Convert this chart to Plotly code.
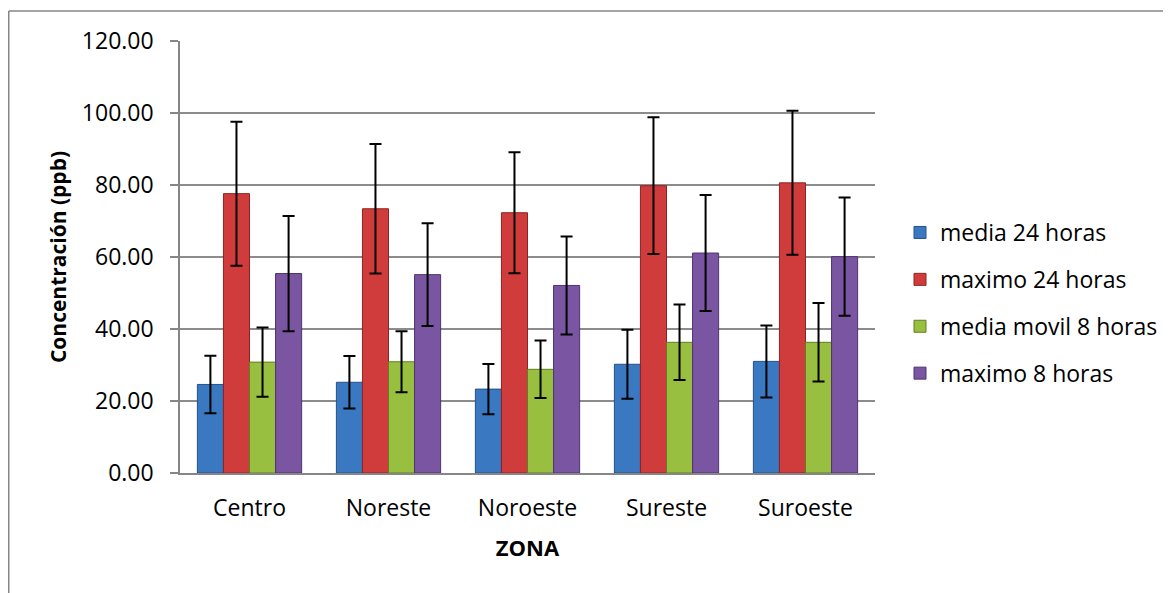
import plotly.graph_objects as go

zonas = ["Centro", "Noreste", "Noroeste", "Sureste", "Suroeste"]
series_names = ["media 24 horas", "maximo 24 horas", "media movil 8 horas", "maximo 8 horas"]
media_24 = [24.6, 25.2, 23.3, 30.2, 31.0]
media_24_err = [8.0, 7.3, 7.0, 9.6, 10.0]
maximo_24 = [77.6, 73.4, 72.3, 79.8, 80.6]
maximo_24_err = [20.0, 18.0, 16.8, 19.0, 20.0]
media_movil_8 = [30.8, 30.9, 28.8, 36.3, 36.3]
media_movil_8_err = [9.6, 8.5, 8.0, 10.5, 10.9]
maximo_8 = [55.4, 55.1, 52.1, 61.1, 60.1]
maximo_8_err = [16.0, 14.3, 13.6, 16.1, 16.4]

values = [media_24, maximo_24, media_movil_8, maximo_8]
errors = [media_24_err, maximo_24_err, media_movil_8_err, maximo_8_err]
colors = ["#3A78C2", "#D03C3B", "#98BF40", "#7A55A2"]
edges = ["#24508A", "#8E2422", "#5F7F22", "#4E3470"]

FONT = "Open Sans"
fig = go.Figure()
for i, (name, v, e) in enumerate(zip(series_names, values, errors)):
    fig.add_trace(go.Bar(
        x=zonas, y=v, name=name, legendgroup=f"g{i}",
        marker=dict(color=colors[i], line=dict(color=edges[i], width=1)),
        error_y=dict(type="data", array=e, visible=True, color="black",
                     thickness=2, width=6),
    ))

# page has an 8px body margin; figure drawn from (8, 8)
OFF = 8
W, H = 1171 - OFF, 593 - OFF
L, T = 180 - OFF, 41 - OFF
pw, ph = 695, 432
R, B = W - L - pw, H - T - ph

fig.update_layout(
    width=W, height=H,
    margin=dict(l=L, r=R, t=T, b=B),
    paper_bgcolor="white", plot_bgcolor="white",
    barmode="group", bargap=0.25, bargroupgap=0,
    font=dict(family=FONT, color="black", size=20),
    legend=dict(xref="container", yref="container",
                x=(900 - OFF) / W, xanchor="left", y=1 - (211 - OFF) / H, yanchor="top",
                font=dict(size=23, family=FONT), tracegroupgap=14,
                itemwidth=30, bgcolor="rgba(0,0,0,0)"),
    xaxis=dict(showline=True, linecolor="#868686", linewidth=1.5,
               ticks="", tickfont=dict(size=23), ticklabelstandoff=14,
               title=dict(text="<b>ZONA</b>", font=dict(size=22), standoff=18)),
    yaxis=dict(range=[0, 120], dtick=20, tickformat=".2f",
               showgrid=True, gridcolor="#8C8C8C", gridwidth=1.5,
               showline=True, linecolor="#868686", linewidth=1.5,
               ticks="outside", ticklen=8, tickcolor="#868686", tickwidth=1.5,
               tickfont=dict(size=23), ticklabelstandoff=12,
               title=dict(text="<b>Concentración (ppb)</b>", font=dict(size=21), standoff=10),
               zeroline=False),
)

# outer chart border (left and top edges visible)
bx = (0.75 - L) / pw
by = 1 + (T - 3) / ph
fig.add_shape(type="line", xref="paper", yref="paper", x0=bx, x1=bx, y0=by, y1=-0.3,
              line=dict(color="#868686", width=1.5))
fig.add_shape(type="line", xref="paper", yref="paper", x0=bx, x1=1.5, y0=by, y1=by,
              line=dict(color="#868686", width=1.5))

fig.write_html("out.html")
